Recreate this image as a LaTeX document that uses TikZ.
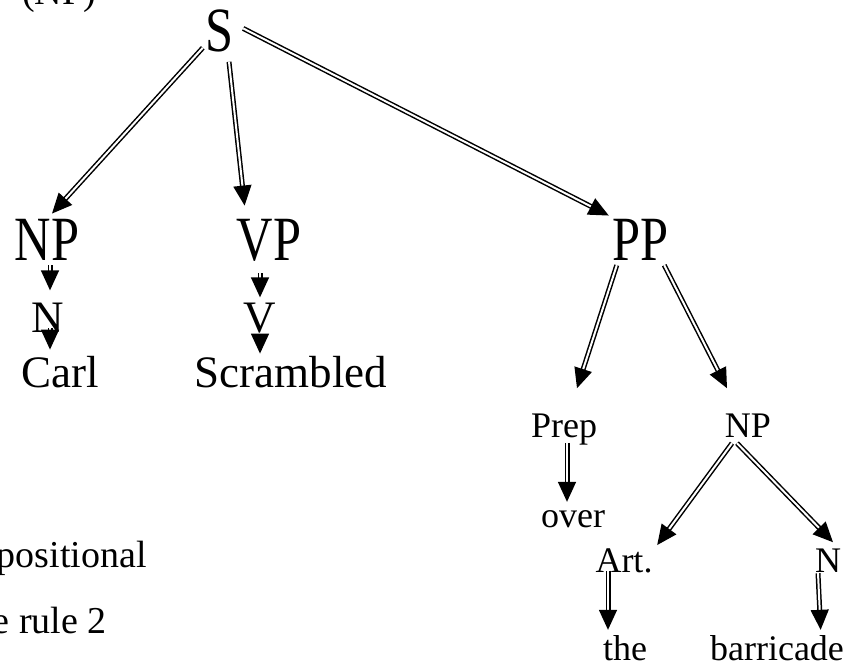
\documentclass[tikz,border=0pt]{standalone}
\usepackage{fontspec}
\setmainfont{Liberation Serif}
\newfontfamily\catfont[FakeStretch=0.8]{Liberation Serif}
\usetikzlibrary{arrows.meta}

\begin{document}
\begin{tikzpicture}[
    x=1pt, y=-1pt,
    bigcat/.style={inner sep=0pt, anchor=base, font=\catfont\fontsize{63}{63}\selectfont},
    midcat/.style={inner sep=0pt, anchor=base, font=\fontsize{45}{45}\selectfont},
    smallcat/.style={inner sep=0pt, anchor=base, font=\fontsize{36}{36}\selectfont},
    slidetext/.style={inner sep=0pt, font=\fontsize{38}{38}\selectfont},
    branch/.style={double, double distance=2pt, line width=1.5pt,
      -{Triangle[length=20pt,width=18pt]}}
  ]
  \useasboundingbox (0,0) rectangle (846,663);
  \clip (0,0) rectangle (846,663);

  % Slide text cut by the frame
  \node[slidetext, anchor=base west] (np) at (22,5) {(NP)};
  \node[slidetext, anchor=base east] (pos) at (147,567) {positional};
  \node[slidetext, anchor=base east] (rule) at (107,633) {e rule 2};

  % Root node
  \node[bigcat] (S) at (220,52) {S};
  % Level 1
  \node[bigcat] (NP) at (47,261) {NP};
  \node[bigcat] (VP) at (269,261) {VP};
  \node[bigcat] (PP) at (641,261) {PP};
  % Level 2
  \node[midcat] (N) at (48,332) {N};
  \node[midcat] (V) at (260,332) {V};
  \node[smallcat] (Prep) at (564,437) {Prep};
  \node[smallcat] (NP2) at (748,437) {NP};
  % Level 3
  \node[midcat] (Carl) at (60,387) {Carl};
  \node[midcat] (Scr) at (291,387) {Scrambled};
  \node[smallcat] (over) at (573,527) {over};
  \node[smallcat] (Art) at (624,572) {Art.};
  \node[smallcat] (N2) at (828,572) {N};
  % Level 4
  \node[smallcat] (the) at (625,660) {the};
  \node[smallcat] (barr) at (777,660) {barricade};

  % Branches from S
  \draw[branch] ([xshift=-3pt,yshift=5pt]S.south west) -- ([xshift=5pt,yshift=6pt]NP.north);
  \draw[branch] ([xshift=9pt,yshift=-9pt]S.south) -- ([xshift=8pt,yshift=14pt]VP.north west);
  \draw[branch] ([xshift=9pt,yshift=3pt]S.east) -- ([xshift=-4pt,yshift=4pt]PP.north west);

  % Under NP and VP
  \draw[branch] ([xshift=3pt,yshift=-4pt]NP.south) -- ([xshift=2pt,yshift=12pt]N.north);
  \draw[branch] ([xshift=2pt,yshift=4pt]N.south) -- ([xshift=-10pt,yshift=6pt]Carl.north);
  \draw[branch] ([xshift=-9pt,yshift=-11pt]VP.south) -- ([yshift=5pt]V.north);
  \draw[branch] ([yshift=-3pt]V.south) -- ([xshift=-31pt,yshift=2pt]Scr.north);

  % Under PP
  \draw[branch] ([xshift=4pt,yshift=-4pt]PP.south west) -- ([xshift=13pt,yshift=25pt]Prep.north);
  \draw[branch] ([xshift=-5pt,yshift=-4pt]PP.south east) -- ([xshift=-21pt,yshift=25pt]NP2.north);
  \draw[branch] ([xshift=3pt,yshift=2pt]Prep.south) -- ([xshift=-6pt,yshift=8pt]over.north);
  \draw[branch] ([xshift=-16pt,yshift=-6pt]NP2.south) -- ([xshift=4.5pt,yshift=3pt]Art.north east);
  \draw[branch] ([xshift=-11pt,yshift=-6pt]NP2.south) -- ([xshift=5pt,yshift=6pt]N2.north);
  \draw[branch] ([xshift=-16pt,yshift=2pt]Art.south) -- ([xshift=-17pt,yshift=5pt]the.north);
  \draw[branch] ([xshift=-10pt,yshift=-1pt]N2.south) -- ([xshift=-23.5pt,yshift=5pt]barr.north east);
\end{tikzpicture}
\end{document}
